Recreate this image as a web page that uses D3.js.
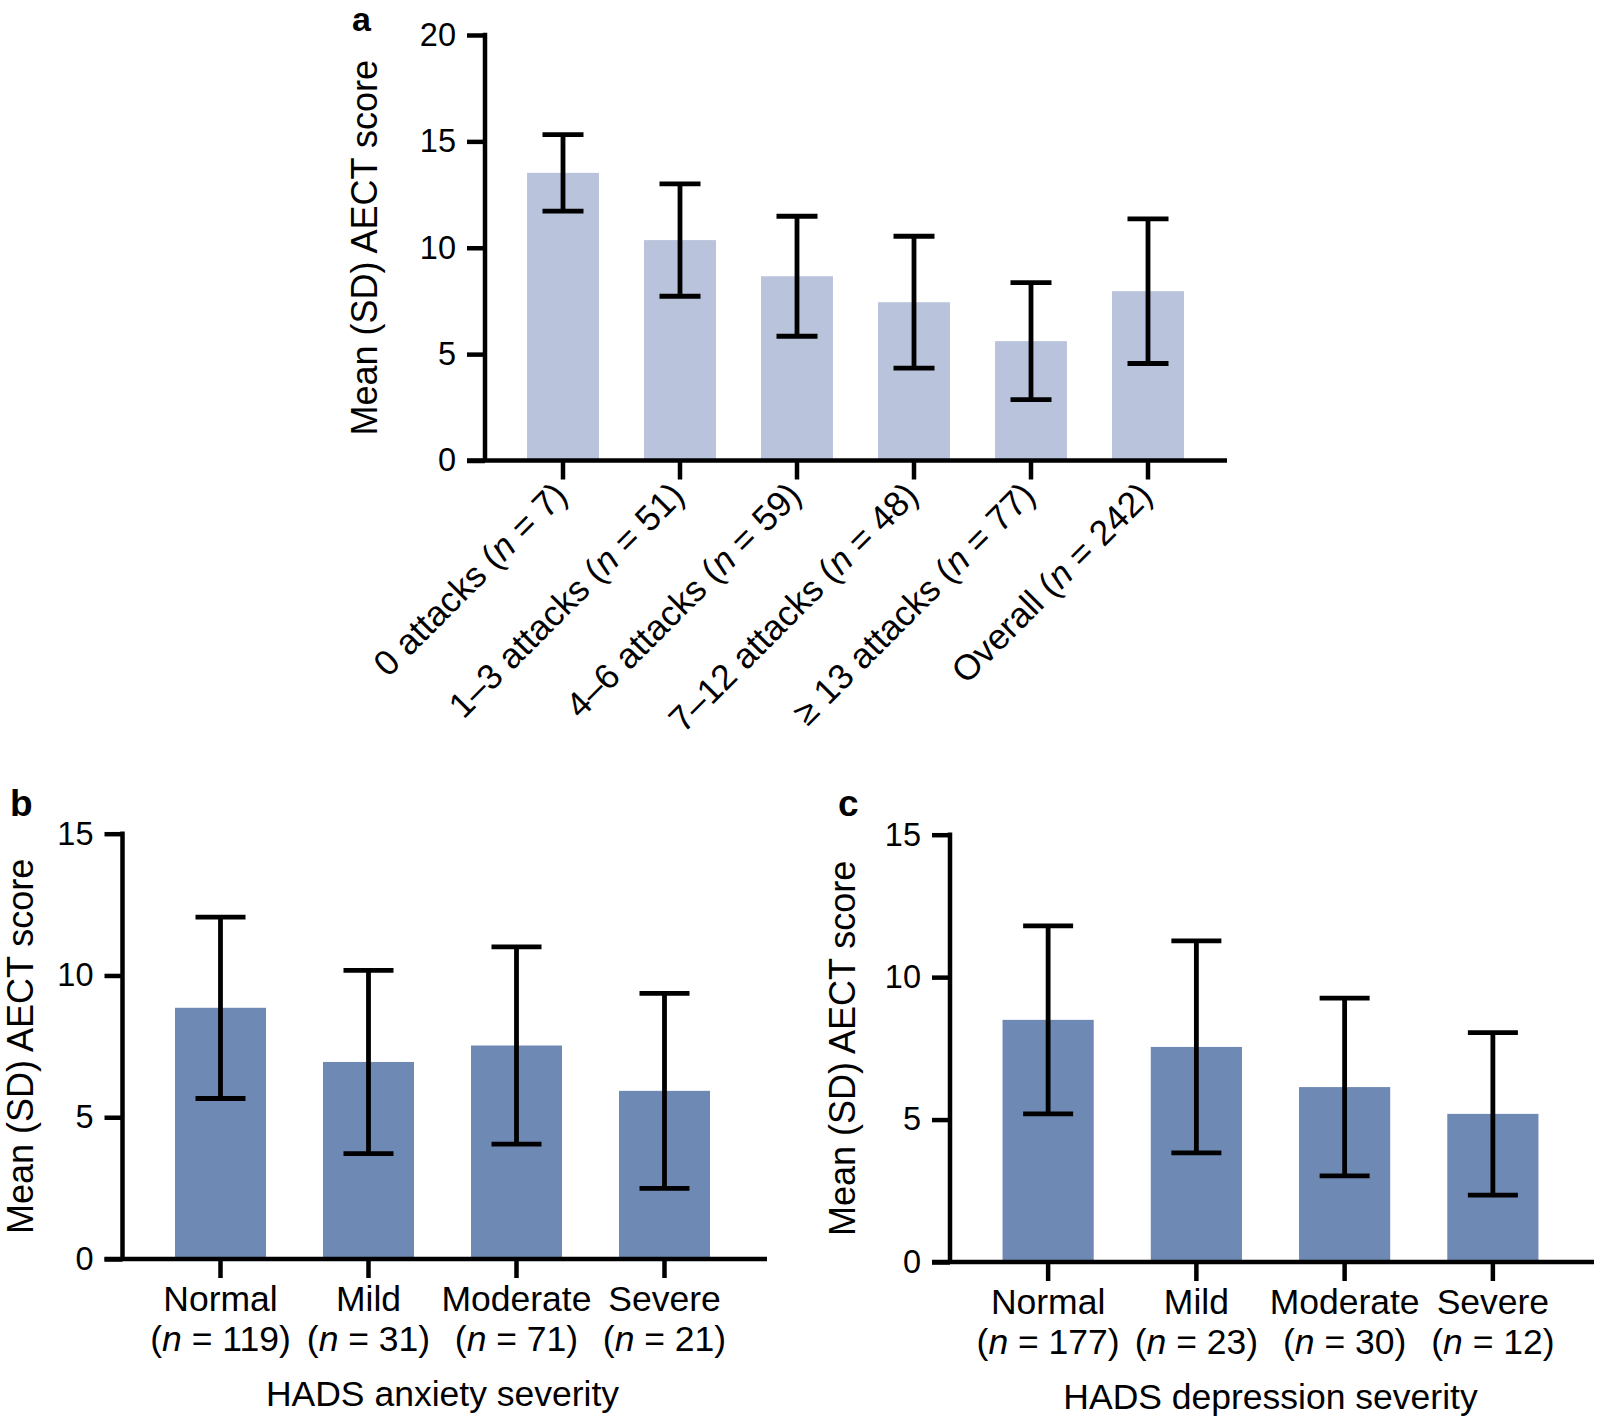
<!DOCTYPE html>
<html><head><meta charset="utf-8">
<script src="https://cdn.jsdelivr.net/npm/d3@7"></script>
<style>
body{margin:0;background:#fff;}
svg{display:block;}
text{font-family:"Liberation Sans",Arial,sans-serif;fill:#000;}
</style></head>
<body>
<script>
// Panel a data
const catsA = ["0 attacks", "1\u20133 attacks", "4\u20136 attacks", "7\u201312 attacks", "\u2265 13 attacks", "Overall"];
const nA = [7, 51, 59, 48, 77, 242];
const meanA = [13.52, 10.36, 8.66, 7.44, 5.61, 7.96];
const sdA = [1.8, 2.64, 2.82, 3.1, 2.75, 3.4];
const ticksA = [0, 5, 10, 15, 20];

// Panel b data (HADS anxiety)
const catsB = ["Normal", "Mild", "Moderate", "Severe"];
const nB = [119, 31, 71, 21];
const meanB = [8.86, 6.95, 7.53, 5.93];
const sdB = [3.2, 3.23, 3.48, 3.44];

// Panel c data (HADS depression)
const catsC = ["Normal", "Mild", "Moderate", "Severe"];
const nC = [177, 23, 30, 12];
const meanC = [8.5, 7.55, 6.14, 5.2];
const sdC = [3.3, 3.72, 3.12, 2.85];
const ticksBC = [0, 5, 10, 15];

const W = 1600, H = 1416;
const svg = d3.select("body").append("svg").attr("width", W).attr("height", H);

const AX = 4.5, EB = 4.8, FS = 35.5;

function panel(o) {
  const g = svg.append("g");
  const y = d3.scaleLinear().domain([0, o.ymax]).range([o.y0, o.yTop]);
  const x = d3.scaleBand().domain(o.cats).range(o.xr).paddingInner(0.385).paddingOuter(0.1925);
  const data = o.cats.map((c, i) => ({c, m: o.means[i], s: o.sds[i], n: o.ns[i]}));

  // bars
  g.selectAll("rect.bar").data(data).enter().append("rect")
    .attr("x", d => x(d.c)).attr("width", x.bandwidth())
    .attr("y", d => y(d.m)).attr("height", d => y(0) - y(d.m))
    .attr("fill", o.color);

  // error bars
  const cx = d => x(d.c) + x.bandwidth() / 2;
  g.selectAll("line.ev").data(data).enter().append("line")
    .attr("x1", cx).attr("x2", cx)
    .attr("y1", d => y(d.m + d.s)).attr("y2", d => y(d.m - d.s))
    .attr("stroke", "#000").attr("stroke-width", EB);
  ["top", "bot"].forEach(k => {
    g.selectAll("line.cap" + k).data(data).enter().append("line")
      .attr("x1", d => cx(d) - o.cap / 2).attr("x2", d => cx(d) + o.cap / 2)
      .attr("y1", d => y(k === "top" ? d.m + d.s : d.m - d.s))
      .attr("y2", d => y(k === "top" ? d.m + d.s : d.m - d.s))
      .attr("stroke", "#000").attr("stroke-width", EB);
  });

  // y axis
  const ya = g.append("g").attr("transform", `translate(${o.ax},0)`)
    .call(d3.axisLeft(y).tickValues(o.ticks).tickSize(18).tickSizeOuter(0).tickPadding(11).tickFormat(d3.format("d")));
  ya.select(".domain").remove();
  ya.selectAll(".tick line").attr("stroke", "#000").attr("stroke-width", AX);
  ya.selectAll(".tick text").attr("font-size", 32.5).attr("fill", "#000").attr("font-family", "Liberation Sans, Arial, sans-serif");
  g.append("line").attr("x1", o.ax).attr("x2", o.ax)
    .attr("y1", y(o.ymax) - AX / 2).attr("y2", y(0))
    .attr("stroke", "#000").attr("stroke-width", AX);

  // x axis
  const xa = g.append("g").attr("transform", `translate(0,${o.y0})`)
    .call(d3.axisBottom(x).tickSize(19).tickSizeOuter(0).tickFormat(""));
  xa.select(".domain").remove();
  xa.selectAll(".tick line").attr("stroke", "#000").attr("stroke-width", AX);
  g.append("line").attr("x1", o.ax - 18).attr("x2", o.xend)
    .attr("y1", o.y0).attr("y2", o.y0)
    .attr("stroke", "#000").attr("stroke-width", AX);

  // y title
  g.append("text").attr("transform", `translate(${o.ytx},${(o.y0 + o.yTop) / 2}) rotate(-90)`)
    .attr("text-anchor", "middle").attr("font-size", 36).text("Mean (SD) AECT score");

  // panel letter
  g.append("text").attr("x", o.lx).attr("y", o.ly).attr("font-size", o.lfs || 37).attr("font-weight", "bold").text(o.letter);

  return {g, x, y, data, cx};
}

// Panel a
const pa = panel({cats: catsA, means: meanA, sds: sdA, ns: nA, ticks: ticksA, ymax: 20,
  y0: 460.5, yTop: 35, xr: [504.5, 1206.5], ax: 485, xend: 1227, cap: 41,
  color: "#b9c3dc", ytx: 377, lx: 352, ly: 31, lfs: 34, letter: "a"});
const la = pa.g.selectAll("text.cat").data(pa.data).enter().append("text")
  .attr("transform", d => `translate(${pa.cx(d) + 6},${460.5 + 37}) rotate(-45)`)
  .attr("text-anchor", "end").attr("font-size", FS);
la.append("tspan").text(d => d.c + " (");
la.append("tspan").attr("font-style", "italic").text("n");
la.append("tspan").text(d => " = " + d.n + ")");

// Panels b and c
function bottomLabels(p, y0, title) {
  p.g.selectAll("text.c1").data(p.data).enter().append("text")
    .attr("x", p.cx).attr("y", y0 + 52).attr("text-anchor", "middle").attr("font-size", FS).text(d => d.c);
  const t2 = p.g.selectAll("text.c2").data(p.data).enter().append("text")
    .attr("x", p.cx).attr("y", y0 + 92).attr("text-anchor", "middle").attr("font-size", FS);
  t2.append("tspan").text("(");
  t2.append("tspan").attr("font-style", "italic").text("n");
  t2.append("tspan").text(d => " = " + d.n + ")");
  const r = p.x.range();
  p.g.append("text").attr("x", (r[0] + r[1]) / 2).attr("y", y0 + 147).attr("text-anchor", "middle")
    .attr("font-size", FS).text(title);
}

const pb = panel({cats: catsB, means: meanB, sds: sdB, ns: nB, ticks: ticksBC, ymax: 15,
  y0: 1259, yTop: 833.7, xr: [146.5, 738.5], ax: 122.5, xend: 767, cap: 50,
  color: "#6e89b4", ytx: 33, lx: 10, ly: 816, letter: "b"});
bottomLabels(pb, 1259, "HADS anxiety severity");

const pc = panel({cats: catsC, means: meanC, sds: sdC, ns: nC, ticks: ticksBC, ymax: 15,
  y0: 1262, yTop: 834.7, xr: [974, 1567], ax: 950, xend: 1594, cap: 50,
  color: "#6e89b4", ytx: 855, lx: 838, ly: 816, letter: "c"});
bottomLabels(pc, 1262, "HADS depression severity");
</script>
</body></html>
